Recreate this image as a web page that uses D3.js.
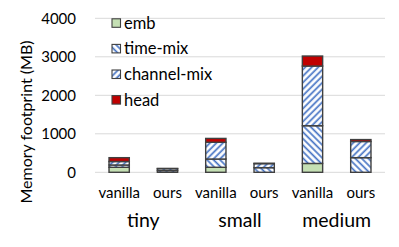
<!DOCTYPE html>
<html><head><meta charset="utf-8">
<script src="https://cdn.jsdelivr.net/npm/d3@7/dist/d3.min.js"></script>
<style>body{margin:0;background:#fff}svg{display:block}text{font-family:Lato,"Open Sans",sans-serif;fill:#000}</style>
</head><body>
<script>
const groups = ["tiny", "small", "medium"];
const variants = ["vanilla", "ours"];
const seriesNames = ["emb", "time-mix", "channel-mix", "head"];
const emb        = [130, 0, 130, 0, 230, 0];
const timeMix    = [60, 45, 215, 120, 980, 380];
const channelMix = [90, 50, 435, 105, 1550, 420];
const head       = [100, 5, 100, 10, 260, 50];
const yTicks = [0, 1000, 2000, 3000, 4000];

const W = 399, H = 247;
const svg = d3.select("body").append("svg").attr("width", W).attr("height", H);
const defs = svg.append("defs");
function hatch(id, angle) {
  const p = defs.append("pattern").attr("id", id).attr("patternUnits", "userSpaceOnUse")
    .attr("width", 4.6).attr("height", 4.6).attr("patternTransform", `rotate(${angle})`);
  p.append("rect").attr("width", 4.6).attr("height", 4.6).attr("fill", "#fff");
  p.append("line").attr("x1", 1.2).attr("y1", 0).attr("x2", 1.2).attr("y2", 4.6)
    .attr("stroke", "#4472C4").attr("stroke-width", 1.7);
}
hatch("hTime", -45);
hatch("hChan", 45);
const fills = ["#C5E0B4", "url(#hTime)", "url(#hChan)", "#C00000"];

const bars = [];
groups.forEach(g => variants.forEach(v => bars.push(g + "|" + v)));
const rows = bars.map((k, i) => ({key: k, emb: emb[i], "time-mix": timeMix[i], "channel-mix": channelMix[i], head: head[i]}));
const stacked = d3.stack().keys(seriesNames)(rows);

const x = d3.scaleBand().domain(bars).range([95, 385]).paddingInner(0.58).paddingOuter(0.29);
const y = d3.scaleLinear().domain([0, 4000]).range([172.3, 18.3]);

// gridlines
svg.append("g").selectAll("line").data(yTicks).join("line")
  .attr("x1", 95).attr("x2", 385).attr("y1", d => y(d)).attr("y2", d => y(d))
  .attr("stroke", "#d9d9d9").attr("stroke-width", 1);

// y axis labels
const yAxis = svg.append("g").attr("transform", "translate(76,0)")
  .call(d3.axisLeft(y).tickValues(yTicks).tickSize(0).tickPadding(0).tickFormat(d3.format("d")));
yAxis.select(".domain").remove();
yAxis.selectAll("text").style("font-size", "15px").style("font-family", "Lato");

svg.append("text").attr("transform", "translate(32,122) rotate(-90)")
  .attr("text-anchor", "middle").style("font-size", "16px").text("Memory footprint (MB)");

// bars
svg.append("g").selectAll("g").data(stacked).join("g")
  .attr("fill", (d, i) => fills[i])
  .selectAll("rect").data(d => d.filter(s => s[1] - s[0] > 0)).join("rect")
  .attr("x", d => x(d.data.key)).attr("width", x.bandwidth())
  .attr("y", d => y(d[1])).attr("height", d => y(d[0]) - y(d[1]))
  .attr("stroke", "#404040").attr("stroke-width", 1.4);

// x labels
svg.append("g").selectAll("text").data(bars).join("text")
  .attr("x", d => x(d) + x.bandwidth() / 2).attr("y", 198)
  .attr("text-anchor", "middle").style("font-size", "15px").text(d => d.split("|")[1]);
svg.append("g").selectAll("text").data(groups).join("text")
  .attr("x", g => (x(g + "|vanilla") + x(g + "|ours") + x.bandwidth()) / 2).attr("y", 226.5)
  .attr("text-anchor", "middle").style("font-size", "19.5px").text(d => d);

// legend
const lg = svg.append("g").selectAll("g").data(seriesNames).join("g")
  .attr("transform", (d, i) => `translate(112,${23.3 + i * 25.6})`);
lg.append("rect").attr("x", 0).attr("y", -4.5).attr("width", 8.5).attr("height", 8.5)
  .attr("fill", (d, i) => fills[i]).attr("stroke", "#404040").attr("stroke-width", 1.1);
lg.append("text").attr("x", 12).attr("y", 5.5).style("font-size", "16.5px").text(d => d);
</script>
</body></html>
